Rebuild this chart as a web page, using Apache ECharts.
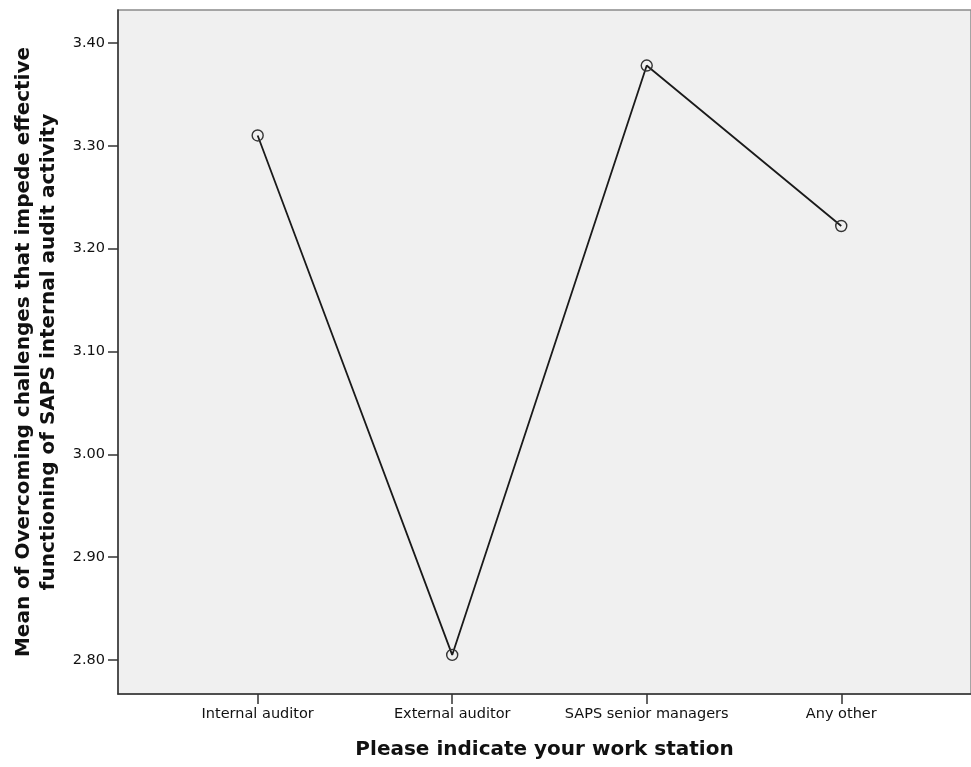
<!DOCTYPE html>
<html><head><meta charset="utf-8">
<script src="https://cdn.jsdelivr.net/npm/echarts@6/dist/echarts.min.js"></script>
<style>html,body{margin:0;padding:0;background:#fff}#c{width:971px;height:767px}</style>
</head><body><div id="c"></div>
<script>
var categories = ["Internal auditor", "External auditor", "SAPS senior managers", "Any other"];
var means = [3.31, 2.805, 3.378, 3.222];
var yTicks = [2.80, 2.90, 3.00, 3.10, 3.20, 3.30, 3.40];
var xTitle = "Please indicate your work station";
var yTitle = "Mean of Overcoming challenges that impede effective\nfunctioning of SAPS internal audit activity";

var chart = echarts.init(document.getElementById('c'));
var idx = categories.map(function(_, i){ return i; });
chart.setOption({
  animation: false,
  backgroundColor: '#ffffff',
  textStyle: {fontFamily: 'DejaVu Sans, sans-serif'},
  grid: {left: 118, top: 10, right: -2, bottom: 73, show: true, backgroundColor: '#f0f0f0', borderColor: '#8a8a8a', borderWidth: 1.5},
  xAxis: {
    type: 'value', min: -0.718, max: 3.667,
    splitLine: {show: false},
    axisLine: {show: true, onZero: false, lineStyle: {color: '#333', width: 1.5}},
    axisTick: {show: true, length: 10, customValues: idx, lineStyle: {color: '#333', width: 1.5}},
    axisLabel: {customValues: idx, color: '#111', fontSize: 14.5, margin: 13, fontFamily: 'DejaVu Sans',
      formatter: function(v){ return categories[Math.round(v)] || ''; }},
    name: xTitle, nameLocation: 'middle', nameGap: 46,
    nameTextStyle: {fontSize: 20, fontWeight: 'bold', color: '#111', fontFamily: 'DejaVu Sans'}
  },
  yAxis: {
    type: 'value', min: 2.767, max: 3.432,
    splitLine: {show: false},
    axisLine: {show: true, onZero: false, lineStyle: {color: '#333', width: 1.5}},
    axisTick: {show: true, length: 10, customValues: yTicks, lineStyle: {color: '#333', width: 1.5}},
    axisLabel: {customValues: yTicks, color: '#111', fontSize: 14.5, margin: 13, fontFamily: 'DejaVu Sans',
      formatter: function(v){ return v.toFixed(2); }},
    name: yTitle, nameLocation: 'middle', nameGap: 57,
    nameTextStyle: {fontSize: 20, fontWeight: 'bold', color: '#111', lineHeight: 25, align: 'center', fontFamily: 'DejaVu Sans'}
  },
  series: [{
    type: 'line',
    data: means.map(function(m, i){ return [i, m]; }),
    symbol: 'circle', symbolSize: 11,
    lineStyle: {color: '#1a1a1a', width: 1.8},
    itemStyle: {color: 'rgba(0,0,0,0)', borderColor: '#333', borderWidth: 1.4}
  }]
});
</script></body></html>
